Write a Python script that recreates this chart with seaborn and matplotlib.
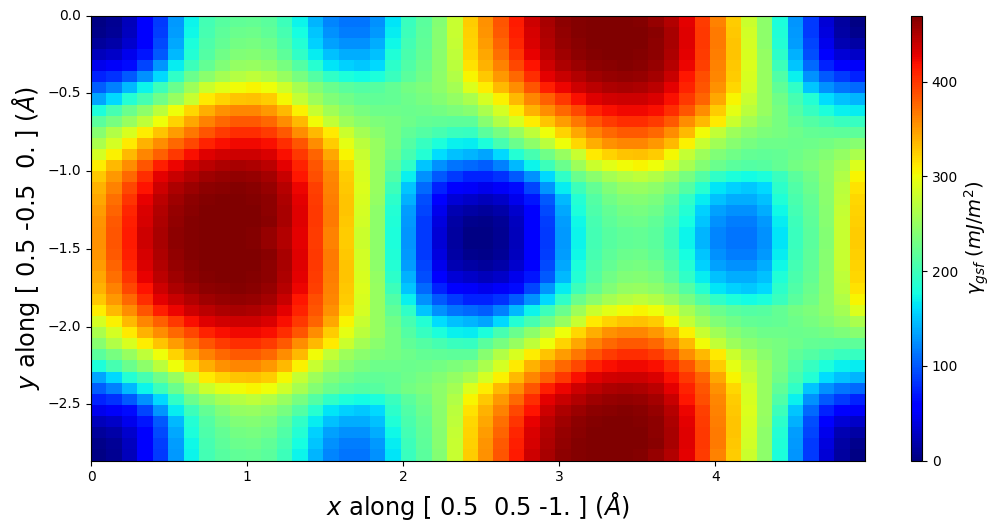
import numpy as np
import matplotlib
matplotlib.use("Agg")
import matplotlib.pyplot as plt
import seaborn as sns

# Surface energy, mJ/m^2, for the left half of the upper half of the map.
# Each list is one row from y=0 downwards, x from 0 to 2.48.
# The picture repeats under (x+2.48, y mirrored about -0.715), and mirrors about y=-1.43.
row_00 = [3,8,25,52,85,130,172,203,214,220,222,216,200,172,142,120,112,112,125,165,197,216,240,278,325]
row_01 = [5,10,27,54,88,132,174,205,217,224,226,220,205,178,149,125,116,116,130,168,199,218,241,278,324]
row_02 = [12,18,32,58,92,136,180,208,222,230,232,226,210,184,156,134,126,126,138,174,202,220,242,276,322]
row_03 = [25,31,45,68,100,145,185,212,228,237,240,234,218,192,168,148,138,138,148,182,206,222,243,272,320]
row_04 = [45,50,64,90,128,168,200,222,238,248,250,245,232,212,187,165,155,152,158,190,211,225,244,270,315]
row_05 = [75,82,100,125,158,192,225,243,258,268,272,265,250,232,212,192,180,176,180,198,216,228,245,265,305]
row_06 = [102,118,145,172,200,225,255,280,293,302,305,300,282,260,240,224,216,212,213,222,230,236,245,258,290]
row_07 = [135,158,185,205,228,250,278,312,322,330,332,325,303,276,254,238,228,222,220,222,226,232,240,248,262]
row_08 = [180,205,225,245,270,300,320,340,355,360,360,352,335,308,278,257,242,232,227,226,224,226,230,235,242]
row_09 = [215,232,250,272,300,322,345,362,375,382,383,375,358,335,302,275,255,243,236,232,226,222,220,218,218]
row_10 = [242,265,288,310,330,350,368,385,398,405,405,398,382,358,335,312,280,258,244,232,220,212,205,198,195]
row_11 = [262,285,312,338,358,375,392,410,420,424,424,420,405,385,358,325,295,270,250,232,212,196,180,170,168]
row_12 = [285,308,335,360,380,400,420,430,436,438,438,432,420,400,378,345,305,278,250,228,205,185,160,148,142]
row_13 = [310,335,358,385,412,425,437,445,450,452,450,445,428,410,385,355,320,285,250,220,192,150,125,112,108]
row_14 = [328,352,375,405,428,440,449,456,460,462,460,454,440,415,388,360,325,288,250,210,170,125,100,85,75]
row_15 = [338,362,392,418,438,450,458,463,466,467,466,460,447,425,395,362,328,290,250,200,150,108,75,58,50]
row_16 = [345,372,402,426,445,456,463,467,469,470,468,463,450,428,398,364,330,288,248,190,140,95,55,35,30]
row_17 = [350,378,408,432,449,460,466,469,470,470,469,464,452,430,400,366,330,285,245,185,132,90,45,22,15]
row_18 = [353,382,412,435,451,462,467,470,470,470,469,465,452,431,400,366,328,283,245,182,130,86,40,16,7]
row_19 = [355,384,414,437,452,463,468,470,470,470,468,460,448,428,398,362,325,280,245,180,128,85,36,14,3]

x_extent = 4.96
y_extent = 2.86
x_ticks = [0, 1, 2, 3, 4]
y_ticks = [0.0, -0.5, -1.0, -1.5, -2.0, -2.5]
y_tick_labels = ["0.0", "\u22120.5", "\u22121.0", "\u22121.5", "\u22122.0", "\u22122.5"]
cbar_ticks = [0, 100, 200, 300, 400]

left = np.array([row_00, row_01, row_02, row_03, row_04, row_05, row_06, row_07, row_08, row_09,
                 row_10, row_11, row_12, row_13, row_14, row_15, row_16, row_17, row_18, row_19], dtype=float)
upper = np.hstack([left, left[::-1]])
grid = np.vstack([upper, upper[::-1]])
n_rows, n_cols = grid.shape

W, H = 1002, 531
fig = plt.figure(figsize=(W / 100, H / 100), dpi=100)
ax = fig.add_axes([91 / W, 1 - 460.5 / H, 774 / W, 445 / H])
cax = fig.add_axes([911 / W, 1 - 460.5 / H, 11 / W, 445 / H])

sns.heatmap(grid, ax=ax, cbar_ax=cax, cmap="jet", vmin=0, vmax=470, square=False, linewidths=0, rasterized=True)

ax.set_xticks([v / x_extent * n_cols for v in x_ticks])
ax.set_xticklabels([str(v) for v in x_ticks], rotation=0, fontsize=10)
ax.set_yticks([-v / y_extent * n_rows for v in y_ticks])
ax.set_yticklabels(y_tick_labels, rotation=0, fontsize=10)
ax.tick_params(length=3.5, width=0.8)
for s in ax.spines.values():
    s.set_visible(True)
    s.set_linewidth(0.8)
    s.set_color("black")

ax.set_xlabel(r"$x$ along [ 0.5  0.5 -1. ] ($\mathit{\AA}$)", fontsize=17.3, labelpad=4)
ax.set_ylabel(r"$y$ along [ 0.5 -0.5  0. ] ($\mathit{\AA}$)", fontsize=17.3, labelpad=4)

cb = ax.collections[0].colorbar
cb.set_ticks(cbar_ticks)
cb.ax.tick_params(labelsize=10, length=3.5, width=0.8)
cb.outline.set_visible(True)
cb.outline.set_linewidth(0.8)
cb.outline.set_edgecolor("black")
cb.set_label(r"$\gamma_{gsf}$ ($mJ/m^2$)", fontsize=14, labelpad=3)

fig.savefig("out.png", dpi=100)
